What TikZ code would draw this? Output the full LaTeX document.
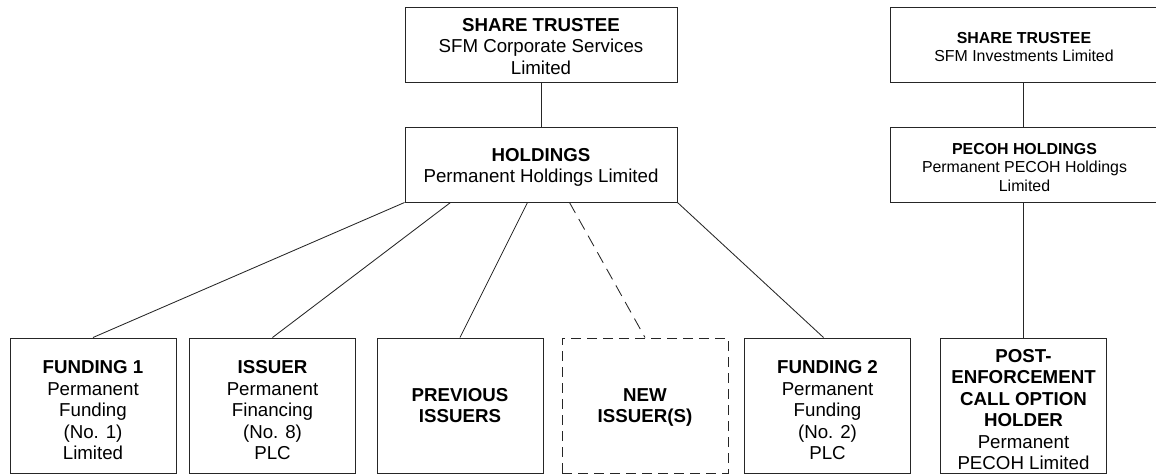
\documentclass[tikz,border=0pt]{standalone}
\usepackage{fontspec}
\setmainfont{Liberation Sans}
\begin{document}
\begin{tikzpicture}[x=1pt,y=-1pt,
  frame/.style={draw=black!85,line width=1pt,inner sep=0pt},
  topbox/.style={frame,minimum width=272pt,minimum height=75pt},
  rbox/.style={frame,minimum width=270pt,minimum height=75pt},
  botbox/.style={frame,minimum width=166pt,minimum height=135pt},
  dashbox/.style={botbox,dash pattern=on 10pt off 6pt},
  txt/.style={inner sep=0pt,align=center,font=\fontsize{18.7}{21.5}\selectfont},
  rtxt/.style={inner sep=0pt,align=center,font=\fontsize{15.9}{18.5}\selectfont},
  conn/.style={draw=black!85,line width=0.85pt},
  dconn/.style={conn,dash pattern=on 12pt off 7pt}]
\useasboundingbox (0,0) rectangle (1156,474);
\node[topbox] (st1) at (541,44.5) {};
\node[topbox] (hold) at (541,164.5) {};
\node[rbox] (st2) at (1025,45) {};
\node[rbox] (pecoh) at (1025.5,164.5) {};
\node[botbox] (f1) at (93,405.5) {};
\node[botbox] (iss) at (272.5,405.5) {};
\node[botbox] (prev) at (460,405.5) {};
\node[dashbox] (new) at (645,405.5) {};
\node[botbox] (f2) at (827.5,405.5) {};
\node[botbox] (post) at (1023.5,405.5) {};
\node[txt] (st1t) at ([yshift=-2pt]st1.center) {\textbf{SHARE TRUSTEE}\\SFM Corporate Services\\Limited};
\node[txt] (holdt) at ([yshift=-3pt]hold.center) {\textbf{HOLDINGS}\\Permanent Holdings Limited};
\node[rtxt] (st2t) at ([xshift=-1pt,yshift=-2pt]st2.center) {\textbf{SHARE TRUSTEE}\\SFM Investments Limited};
\node[rtxt] (pecoht) at ([xshift=-1pt,yshift=-3pt]pecoh.center) {\textbf{PECOH HOLDINGS}\\Permanent PECOH Holdings\\Limited};
\node[txt] (f1t) at ([yshift=-5pt]f1.center) {\textbf{FUNDING 1}\\Permanent\\Funding\\(No. 1)\\Limited};
\node[txt] (isst) at ([yshift=-5pt]iss.center) {\textbf{ISSUER}\\Permanent\\Financing\\(No. 8)\\PLC};
\node[txt] (prevt) at ([yshift=0pt]prev.center) {\textbf{PREVIOUS}\\\textbf{ISSUERS}};
\node[txt] (newt) at ([yshift=-2pt]new.center) {\textbf{NEW}\\\textbf{ISSUER(S)}};
\node[txt] (f2t) at ([yshift=-5pt]f2.center) {\textbf{FUNDING 2}\\Permanent\\Funding\\(No. 2)\\PLC};
\node[txt] (postt) at ([yshift=-4pt]post.center) {\textbf{POST-}\\\textbf{ENFORCEMENT}\\\textbf{CALL OPTION}\\\textbf{HOLDER}\\Permanent\\PECOH Limited};
\draw[conn] (st1.south) -- (hold.north);
\draw[conn] (hold.south west) -- (f1.north);
\draw[conn] ([xshift=46pt]hold.south west) -- (iss.north);
\draw[conn] ([xshift=123pt]hold.south west) -- (prev.north);
\draw[dconn] ([xshift=165pt]hold.south west) -- (new.north);
\draw[conn] (hold.south east) -- ([xshift=-4pt]f2.north);
\draw[conn] (st2.south -| post.north) -- (pecoh.north -| post.north);
\draw[conn] (pecoh.south -| post.north) -- (post.north);
\end{tikzpicture}
\end{document}
